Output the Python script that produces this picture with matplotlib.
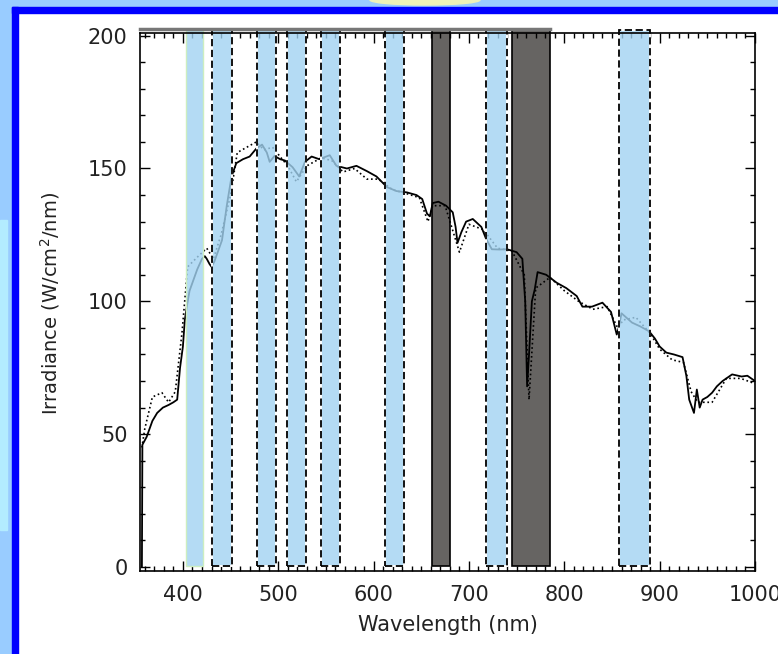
import numpy as np
import matplotlib.pyplot as plt
from matplotlib.patches import Rectangle, Ellipse
from matplotlib.ticker import MultipleLocator

# solar irradiance spectrum (solid line)
wl = [357, 357.5, 362, 368, 373, 379, 385, 390, 394, 397, 400, 402, 405, 407, 411, 415,
      420, 423, 425, 428, 430, 433, 436, 441, 446, 451, 456, 463, 470, 477, 483, 488,
      491, 496, 502, 507, 515, 522, 528, 535, 543, 554, 561, 572, 582, 593, 603, 614,
      624, 635, 645, 651, 656, 659, 662, 668, 676, 683, 686, 688, 692, 697, 704, 713,
      718, 724, 732, 740, 750, 756, 759, 761, 763, 766, 769, 772, 781, 792, 802, 813,
      819, 829, 840, 849, 855, 857, 860, 871, 880, 889, 895, 900, 907, 915, 924, 928,
      931, 936, 939, 942, 945, 950, 955, 960, 966, 976, 986, 992, 1000]
irr = [0, 46, 49, 55, 58, 60, 61, 62, 63, 75, 83, 93, 100, 104, 108, 112,
       116, 117, 116, 114, 113, 115, 118, 123, 136, 147, 152, 153.5, 154.5, 157.5, 159, 156,
       152.5, 154.7, 153.5, 153, 150.5, 147, 152.5, 154.5, 153.5, 155, 151, 150, 151, 149, 147, 143,
       141.5, 141, 140, 138.5, 133, 132, 137, 137.5, 136, 133.5, 128, 122, 126, 130, 131, 128,
       123.5, 119.6, 119.5, 119.6, 118.5, 116, 100, 68, 80, 100, 104.5, 111, 110, 107, 105, 102,
       98, 98, 99.5, 96, 87.5, 90, 95.5, 92, 90.5, 88.7, 86, 83, 80.7, 80, 79, 72,
       63, 58, 66.8, 60, 63, 64, 65.6, 68, 70, 72.5, 71.7, 72, 70]

# second (dotted) spectrum
dot_wl = [357, 360, 368, 378, 385, 392, 399, 405, 415, 425, 432, 440, 450, 457, 467, 477,
          485, 494, 503, 510, 519, 530, 545, 556, 568, 580, 593, 605, 620, 635, 648, 657,
          662, 675, 690, 700, 715, 730, 745, 758, 763, 770, 785, 800, 815, 830, 845, 856,
          862, 875, 890, 900, 913, 925, 933, 940, 955, 970, 985, 1000]
dot_irr = [45, 52, 64, 65.6, 62, 66, 88, 113, 116.6, 120, 116, 125, 140, 156, 158, 160,
           157, 158, 154, 151, 145, 151, 154, 153, 148.7, 150, 146, 146, 142, 140.5, 139, 130,
           136, 136, 118.5, 129, 127, 120, 119, 110, 63, 105, 109, 104, 100, 97, 98, 90,
           93, 94, 88, 82, 78, 77, 66, 62, 62, 71, 71, 69]

# spectral bands
ref_lo, ref_hi = [403], [421]
blue_lo = [431, 478, 509, 545, 612, 718, 857]
blue_hi = [451, 498, 529, 565, 632, 740, 890]
dark_lo = [661, 745]
dark_hi = [680, 785]

fig = plt.figure(figsize=(7.78, 6.54), dpi=100)
fig.patch.set_facecolor('white')

W, H = 778.0, 654.0
def frame(x, y, w, h, c):
    fig.patches.append(Rectangle((x / W, 1 - (y + h) / H), w / W, h / H,
                                 transform=fig.transFigure, color=c, zorder=0))

frame(0, 0, W, 7, '#99ccff')
frame(0, 0, 12, H, '#99ccff')
frame(0, 220, 7, 310, '#b3ecff')
frame(12, 7, W - 12, 6, '#0000ff')
frame(12, 7, 6, H - 7, '#0000ff')
fig.patches.append(Ellipse((425 / W, 1.0), 110 / W, 10 / H, transform=fig.transFigure,
                           color='#eef2b8', zorder=0))

ax = fig.add_axes([140 / W, (H - 571) / H, 615 / W, 538 / H])

top = 202
blue_face = (0.635, 0.827, 0.949, 0.8)

ax.bar(dark_lo, top, width=np.subtract(dark_hi, dark_lo), align='edge', bottom=0.3,
       color='#666462', edgecolor='black', lw=1.2, zorder=1, clip_on=False)

ax.plot(wl, irr, color='black', lw=1.3, zorder=2)
ax.plot(dot_wl, dot_irr, color='black', lw=1.2, ls=':', zorder=2)

ax.bar(ref_lo, top, width=np.subtract(ref_hi, ref_lo), align='edge', bottom=0.3,
       color=blue_face, edgecolor='#cdeec0', lw=1, zorder=3, clip_on=False)
ax.bar(blue_lo, top, width=np.subtract(blue_hi, blue_lo), align='edge', bottom=0.3,
       color=blue_face, edgecolor='white', lw=1.4, zorder=3, clip_on=False)
ax.bar(blue_lo, top, width=np.subtract(blue_hi, blue_lo), align='edge', bottom=0.3,
       color='none', edgecolor='black', lw=1.3, ls=(0, (4, 2)), zorder=4, clip_on=False)

# second frame line along the top
ax.plot([355, 785], [202.5, 202.5], color='#777777', lw=2.5, zorder=5, clip_on=False)

ax.set_xlim(355, 1000)
ax.set_ylim(-1.5, 201)
ax.xaxis.set_major_locator(MultipleLocator(100))
ax.xaxis.set_minor_locator(MultipleLocator(10))
ax.yaxis.set_major_locator(MultipleLocator(50))
ax.yaxis.set_minor_locator(MultipleLocator(10))
ax.tick_params(which='both', direction='in', top=True, right=True, width=1, colors='black')
ax.tick_params(which='major', length=7)
ax.tick_params(which='minor', length=3.5)
ax.tick_params(axis='x', which='major', pad=10, labelsize=15, labelcolor='#222222')
ax.tick_params(axis='y', which='major', pad=9, labelsize=15, labelcolor='#222222')
for s in ax.spines.values():
    s.set_linewidth(1.2)
    s.set_zorder(6)

ax.set_xlabel('Wavelength (nm)', fontsize=15, color='#222222', va='center')
ax.set_ylabel('Irradiance (W/cm$^2$/nm)', fontsize=14, color='#222222', va='center')
ax.xaxis.set_label_coords(0.5, -0.100)
ax.yaxis.set_label_coords(-0.146, 0.498)

fig.savefig('out.png', dpi=100)
